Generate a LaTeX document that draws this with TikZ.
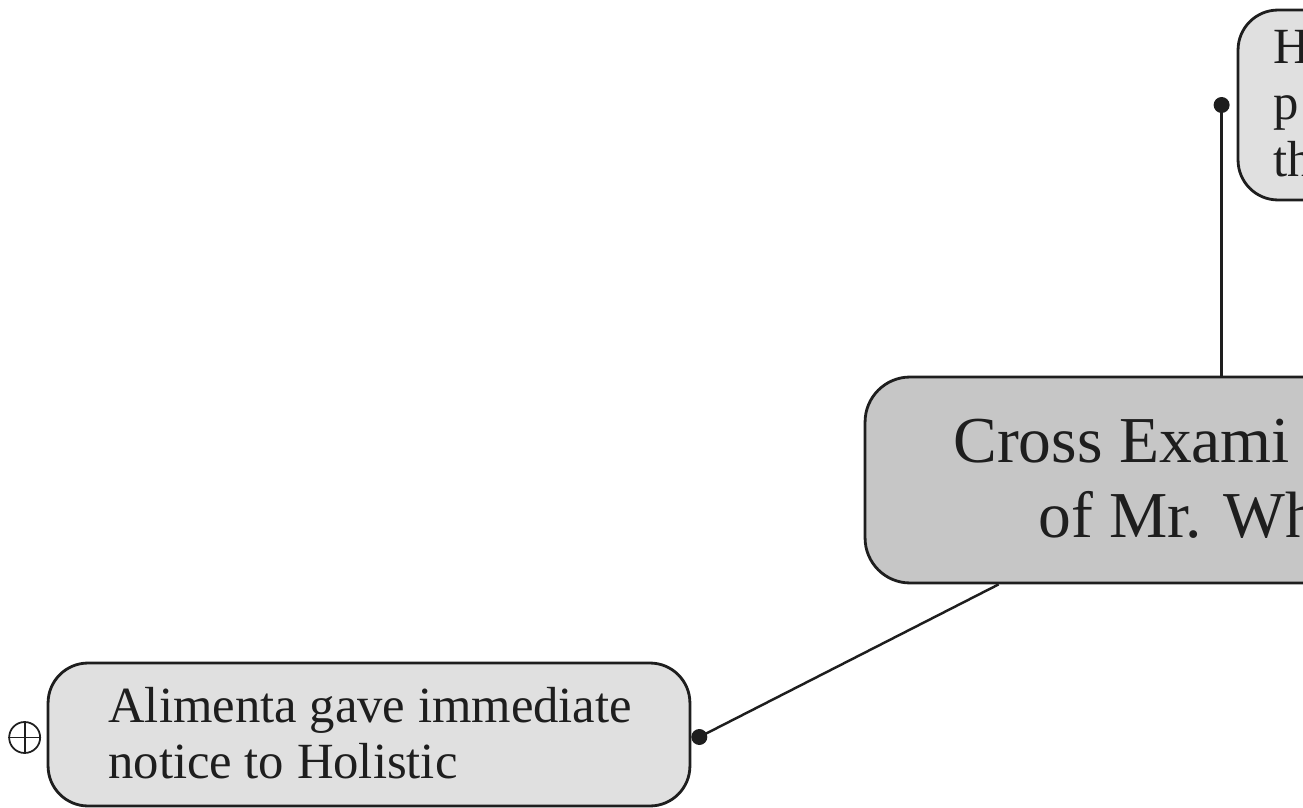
\documentclass[tikz,border=0pt]{standalone}
\usepackage{fontspec}
\setmainfont{Liberation Serif}
\definecolor{leafgray}{HTML}{E0E0E0}
\definecolor{rootgray}{HTML}{C6C6C6}
\definecolor{inkgray}{HTML}{1E1E1E}

\begin{document}
\begin{tikzpicture}[x=0.02cm, y=-0.02cm,
    topic/.style={draw=inkgray, line width=1.6pt, rounded corners=0.8cm, inner sep=0pt},
    words/.style={anchor=base west, inner sep=0pt, text=inkgray},
    link/.style={draw=inkgray, line width=1.4pt}]
    \useasboundingbox (0,0) rectangle (1303,808);
    \clip (0,0) rectangle (1303,808);

    % boxes
    \node[topic, fill=rootgray, rounded corners=0.9cm, minimum width=14cm, minimum height=4.12cm] (main) at (1215,480) {};
    \node[topic, fill=leafgray, minimum width=8cm, minimum height=3.8cm] (hyp) at (1438,105) {};
    \node[topic, fill=leafgray, minimum width=12.84cm, minimum height=2.86cm] (ali) at (369,734.5) {};

    % texts
    \node[words] (maintxt) at (953,462) {\parbox[t]{12cm}{\fontsize{37.3}{42.7}\selectfont Cross Exami\\\hspace*{1.7cm}of Mr. Wh}};
    \node[words] (hyptxt) at (1273,63) {\parbox[t]{4cm}{\fontsize{28.85}{32.3}\selectfont H\\p\\th}};
    \node[words] (alitxt) at (108,722) {\parbox[t]{12cm}{\fontsize{28.85}{32.3}\selectfont Alimenta gave immediate\\notice to Holistic}};

    % connectors
    \coordinate (hypknob) at ([xshift=-0.3cm]hyp.west);
    \coordinate (aliknob) at ([xshift=0.16cm, yshift=-0.05cm]ali.east);
    \draw[link] (hypknob) -- (hypknob |- main.north);
    \draw[link] (aliknob) -- ([xshift=2.7cm]main.south west);
    \fill[inkgray] (hypknob) circle (0.16cm);
    \fill[inkgray] (aliknob) circle (0.16cm);

    % fold marker
    \node[draw=inkgray, circle, line width=1pt, minimum size=0.62cm, inner sep=0pt] (fold) at ([xshift=-0.44cm, yshift=-0.06cm]ali.west) {};
    \draw[inkgray, line width=1pt] (fold.north) -- (fold.south) (fold.west) -- (fold.east);
\end{tikzpicture}
\end{document}
